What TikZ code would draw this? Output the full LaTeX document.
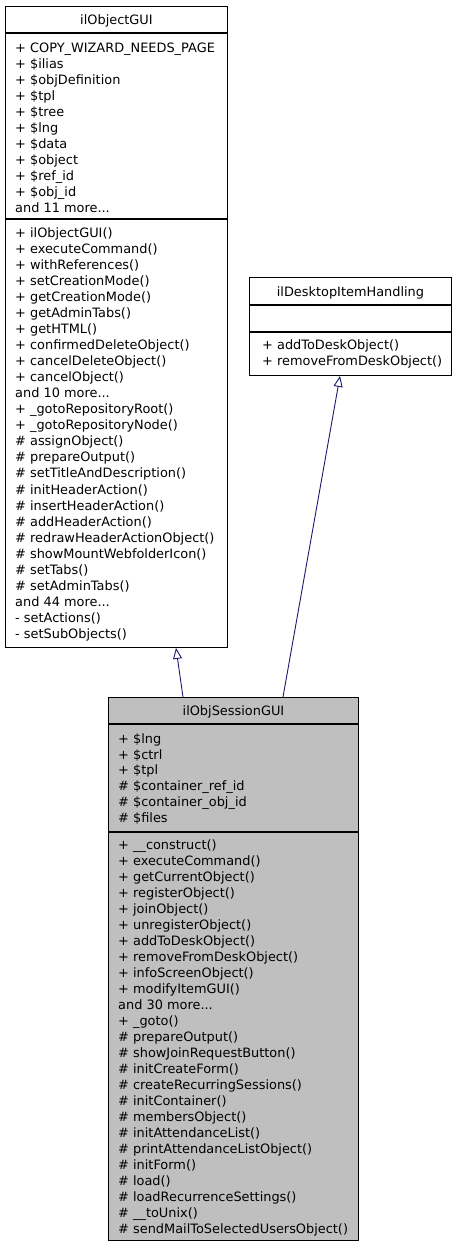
\documentclass[tikz,border=0pt]{standalone}
\usepackage{fontspec}
\setmainfont{DejaVu Sans}
\usetikzlibrary{positioning,calc,arrows.meta}
\definecolor{edgeblue}{HTML}{191970}
\definecolor{classgray}{HTML}{BFBFBF}
\newcommand\andmore[1]{and #1 more...}

\begin{document}
\begin{tikzpicture}[x=1pt,y=-1pt,
  every node/.style={font=\fontsize{12.9}{15}\selectfont},
  classbox/.style={draw,line width=0.9pt,anchor=north west,inner sep=0},
  member/.style={anchor=mid west,inner sep=0,yshift=-3.5pt},
  title/.style={anchor=mid,inner sep=0,yshift=-3pt},
  sep/.style={line width=1.6pt},
  inherit/.style={draw=edgeblue,line width=0.9pt,-{Triangle[open,length=11pt,width=9pt]}}]
  \useasboundingbox (0,0) rectangle (456,1248);

  % base class
  \node[classbox,minimum width=222pt,minimum height=641pt] (obj) at (5,6) {};
  \node[title] (objname) at ($(obj.north)+(0,13)$) {ilObjectGUI};
  \draw[sep] ($(obj.north west)+(0,27)$) -- ($(obj.north east)+(0,27)$);
  \draw[sep] ($(obj.north west)+(0,213)$) -- ($(obj.north east)+(0,213)$);
  \foreach \t [count=\i from 0] in {+ COPY\_WIZARD\_NEEDS\_PAGE,+ \$ilias,+ \$objDefinition,
      + \$tpl,+ \$tree,+ \$lng,+ \$data,+ \$object,+ \$ref\_id,+ \$obj\_id,\andmore{11}}
    \node[member] at ($(obj.north west)+(10,40+16*\i)$) {\t};
  \foreach \t [count=\i from 0] in {+ ilObjectGUI(),+ executeCommand(),+ withReferences(),
      + setCreationMode(),+ getCreationMode(),+ getAdminTabs(),+ getHTML(),
      + confirmedDeleteObject(),+ cancelDeleteObject(),+ cancelObject(),\andmore{10},
      + \_gotoRepositoryRoot(),+ \_gotoRepositoryNode(),\# assignObject(),\# prepareOutput(),
      \# setTitleAndDescription(),\# initHeaderAction(),\# insertHeaderAction(),
      \# addHeaderAction(),\# redrawHeaderActionObject(),\# showMountWebfolderIcon(),
      \# setTabs(),\# setAdminTabs(),\andmore{44},- setActions(),- setSubObjects()}
    \node[member] at ($(obj.north west)+(10,225+16.05*\i)$) {\t};

  % interface
  \node[classbox,minimum width=202pt,minimum height=98pt] (desk) at (249,277) {};
  \node[title] (deskname) at ($(desk.north)+(0,14)$) {ilDesktopItemHandling};
  \draw[sep] ($(desk.north west)+(0,28)$) -- ($(desk.north east)+(0,28)$);
  \draw[sep] ($(desk.north west)+(0,55)$) -- ($(desk.north east)+(0,55)$);
  \foreach \t [count=\i from 0] in {+ addToDeskObject(),+ removeFromDeskObject()}
    \node[member] at ($(desk.north west)+(13,66+16*\i)$) {\t};

  % derived class
  \node[classbox,fill=classgray,minimum width=250pt,minimum height=543pt] (sess) at (108,697) {};
  \node[title] (sessname) at ($(sess.north)+(0,13)$) {ilObjSessionGUI};
  \draw[sep] ($(sess.north west)+(0,27)$) -- ($(sess.north east)+(0,27)$);
  \draw[sep] ($(sess.north west)+(0,135)$) -- ($(sess.north east)+(0,135)$);
  \foreach \t [count=\i from 0] in {+ \$lng,+ \$ctrl,+ \$tpl,\# \$container\_ref\_id,
      \# \$container\_obj\_id,\# \$files}
    \node[member] at ($(sess.north west)+(10,40+15.8*\i)$) {\t};
  \foreach \t [count=\i from 0] in {+ \_\_construct(),+ executeCommand(),+ getCurrentObject(),
      + registerObject(),+ joinObject(),+ unregisterObject(),+ addToDeskObject(),
      + removeFromDeskObject(),+ infoScreenObject(),+ modifyItemGUI(),\andmore{30},
      + \_goto(),\# prepareOutput(),\# showJoinRequestButton(),\# initCreateForm(),
      \# createRecurringSessions(),\# initContainer(),\# membersObject(),
      \# initAttendanceList(),\# printAttendanceListObject(),\# initForm(),\# load(),
      \# loadRecurrenceSettings(),\# \_\_toUnix(),\# sendMailToSelectedUsersObject()}
    \node[member] at ($(sess.north west)+(10,146+16*\i)$) {\t};

  \draw[inherit] ($(sess.north west)+(75,0)$) -- ($(obj.south west)+(171,0)$);
  \draw[inherit] ($(sess.north west)+(175,0)$) -- ($(desk.south west)+(91,0)$);
\end{tikzpicture}
\end{document}
